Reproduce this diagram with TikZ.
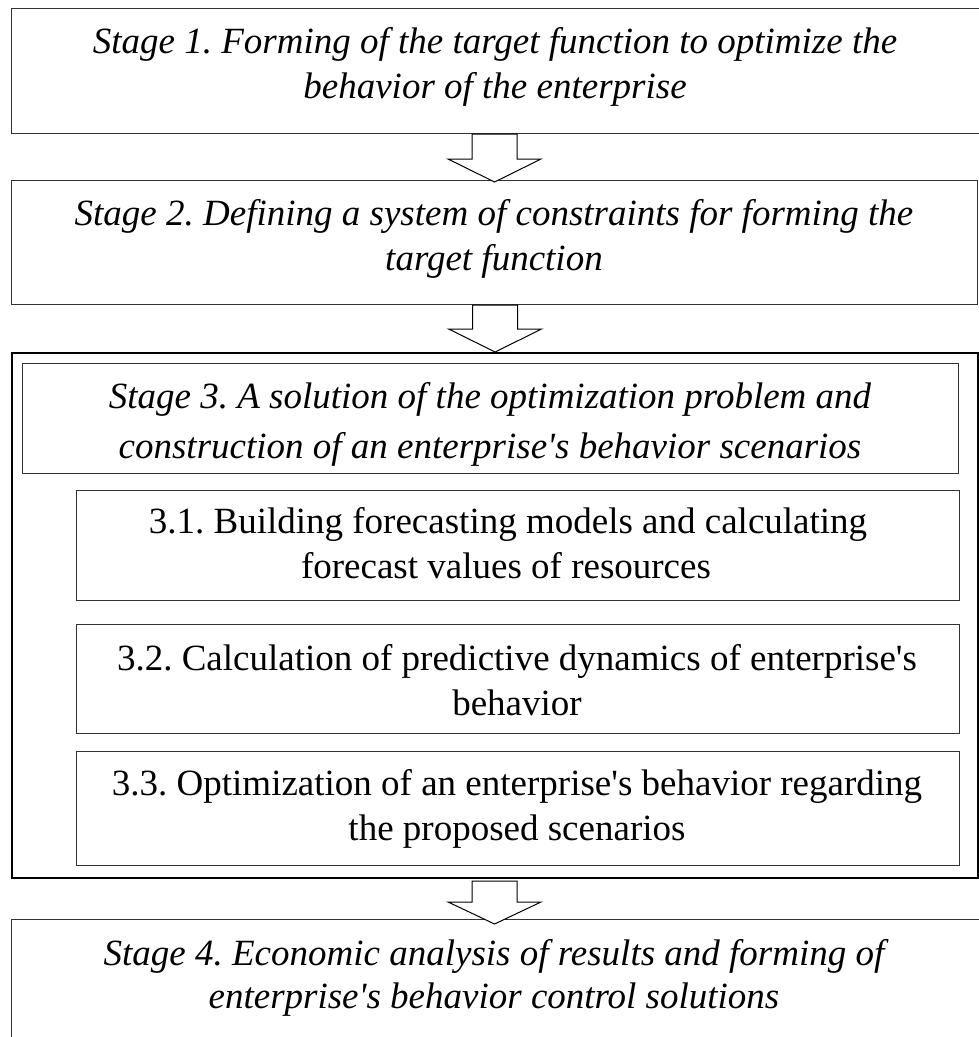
\documentclass[tikz,border=0pt]{standalone}
\usepackage{fontspec}
\setmainfont{Liberation Serif}[Ligatures=TeXOff]
\usetikzlibrary{calc}
\frenchspacing
\begin{document}
\begin{tikzpicture}[x=1pt,y=-1pt,
  box/.style={draw=black!80,line width=1.1pt,fill=none,inner sep=0pt},
  outerbox/.style={draw=black,line width=2.2pt,inner sep=0pt},
  txt/.style={font=\fontsize{37}{45}\selectfont\itshape\frenchspacing,anchor=base,inner sep=0pt},
  utxt/.style={font=\fontsize{37}{45}\selectfont\frenchspacing,anchor=base,inner sep=0pt},
  barrow/.style={draw=black,line width=1pt,fill=white,line join=miter}]
\useasboundingbox (0,0) rectangle (979,1037);
% boxes
\node[box,anchor=north west,minimum width=970pt,minimum height=125pt] (s1) at (11,8) {};
\node[box,anchor=north west,minimum width=966pt,minimum height=124pt] (s2) at (11,180) {};
\node[outerbox,anchor=north west,minimum width=966pt,minimum height=525pt] (s3o) at (11,352) {};
\draw[draw=black!45,line width=1pt] (s3o.north east) -- (s3o.south east);
\node[box,anchor=north west,minimum width=936pt,minimum height=110pt] (s3) at (22,363) {};
\node[box,anchor=north west,minimum width=883pt,minimum height=110pt] (b31) at (76,490) {};
\node[box,anchor=north west,minimum width=883pt,minimum height=109pt] (b32) at (76,624) {};
\node[box,anchor=north west,minimum width=883pt,minimum height=114pt] (b33) at (76,751) {};
\node[box,anchor=north west,minimum width=972pt,minimum height=130pt] (s4) at (11,919) {};
% texts
\node[txt] (t1a) at (495,53) {Stage 1. Forming of the target function to optimize the};
\node[txt] (t1b) at (495,98) {behavior of the enterprise};
\node[txt] (t2a) at (494,225) {Stage 2. Defining a system of constraints for forming the};
\node[txt] (t2b) at (494,270) {target function};
\node[txt] (t3a) at (490,408) {Stage 3. A solution of the optimization problem and};
\node[txt] (t3b) at (490,458) {construction of an enterprise's behavior scenarios};
\node[utxt] (t31a) at (508,533) {3.1. Building forecasting models and calculating};
\node[utxt] (t31b) at (506,578) {forecast values of resources};
\node[utxt] (t32a) at (517,670) {3.2. Calculation of predictive dynamics of enterprise's};
\node[utxt] (t32b) at (517,715) {behavior};
\node[utxt] (t33a) at (517,795) {3.3. Optimization of an enterprise's behavior regarding};
\node[utxt] (t33b) at (517,840) {the proposed scenarios};
\node[txt] (t4a) at (494,965) {Stage 4. Economic analysis of results and forming of};
\node[txt] (t4b) at (494,1008) {enterprise's behavior control solutions};
% block arrows
\coordinate (tip1) at ($(s2.north)+(0,2)$);
\coordinate (tip2) at ($(s3o.north)+(0,0)$);
\coordinate (tip3) at ($(s2.north |- s4.north)+(0,5)$);
\coordinate (top3) at ($(s3o.south)+(0,2)$);
\draw[barrow] let \p1=(s1.south), \p2=(tip1) in
  (\x2-22.5pt,\y1) -- (\x2-22.5pt,\y2+23pt) -- (\x2-46.5pt,\y2+23pt) -- (\x2,\y2)
  -- (\x2+46.5pt,\y2+23pt) -- (\x2+22.5pt,\y2+23pt) -- (\x2+22.5pt,\y1) -- cycle;
\draw[barrow] let \p1=(s2.south), \p2=(tip2) in
  (\x2-22.5pt,\y1) -- (\x2-22.5pt,\y2+23pt) -- (\x2-46.5pt,\y2+23pt) -- (\x2,\y2)
  -- (\x2+46.5pt,\y2+23pt) -- (\x2+22.5pt,\y2+23pt) -- (\x2+22.5pt,\y1) -- cycle;
\draw[barrow] let \p1=(top3), \p2=(tip3) in
  (\x2-22.5pt,\y1) -- (\x2-22.5pt,\y2+22pt) -- (\x2-46.5pt,\y2+22pt) -- (\x2,\y2)
  -- (\x2+46.5pt,\y2+22pt) -- (\x2+22.5pt,\y2+22pt) -- (\x2+22.5pt,\y1) -- cycle;
\end{tikzpicture}
\end{document}
